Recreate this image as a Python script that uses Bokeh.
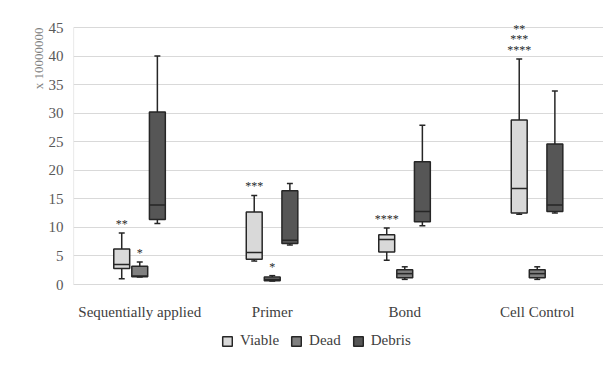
from bokeh.plotting import figure
from bokeh.models import (ColumnDataSource, FactorRange, Range1d, Legend, LegendItem,
                          Title, FixedTicker)
from bokeh.transform import dodge
from bokeh.core.properties import value
from bokeh.embed import file_html
from bokeh.resources import INLINE

# ---------------- data ----------------
categories = ["Sequentially applied", "Primer", "Bond", "Cell Control"]
series_names = ["Viable", "Dead", "Debris"]

viable_min = [1.0, 4.1, 4.25, 12.3]
viable_q1 = [2.8, 4.4, 5.7, 12.5]
viable_med = [3.5, 5.6, 7.9, 16.8]
viable_q3 = [6.2, 12.7, 8.7, 28.8]
viable_max = [9.0, 15.6, 9.9, 39.5]

dead_min = [1.3, 0.6, 0.9, 0.9]
dead_q1 = [1.35, 0.65, 1.2, 1.2]
dead_med = [1.5, 0.9, 1.9, 1.9]
dead_q3 = [3.2, 1.3, 2.6, 2.6]
dead_max = [3.95, 1.55, 3.1, 3.1]

debris_min = [10.7, 6.9, 10.3, 12.5]
debris_q1 = [11.4, 7.2, 11.0, 12.8]
debris_med = [13.9, 7.75, 12.8, 13.9]
debris_q3 = [30.2, 16.4, 21.5, 24.6]
debris_max = [40.0, 17.7, 27.9, 33.9]

# significance marks: category, series, text, stack level
sig_category = ["Sequentially applied", "Sequentially applied", "Primer", "Primer",
                "Bond", "Cell Control", "Cell Control", "Cell Control"]
sig_series = ["Viable", "Dead", "Viable", "Dead", "Viable", "Viable", "Viable", "Viable"]
sig_text = ["**", "*", "***", "*", "****", "****", "***", "**"]
sig_level = [0, 0, 0, 0, 0, 0, 1, 2]

y_ticks = [0, 5, 10, 15, 20, 25, 30, 35, 40, 45]
y_max = 45
y_unit_label = "x 10000000"

# ---------------- style / layout ----------------
SERIF = "Liberation Serif"
fills = {"Viable": "#d9d9d9", "Dead": "#808080", "Debris": "#565656"}
offsets = {"Viable": -0.136, "Dead": 0.0, "Debris": 0.133}
edge = "#262626"
box_w = 0.12
cap_w = 0.045

W, H = 603, 367
VALUE_TOP, LEFT = 27, 73
HEADROOM = 12                     # px above the 45 line kept for the stacked marks
TOP = VALUE_TOP - HEADROOM
VALUE_PX = 257                    # pixel height of the 0..45 value band
BELOW_PX = H - VALUE_TOP - VALUE_PX   # room under the value axis for labels and legend
px_to_val = y_max / VALUE_PX
y_start = -BELOW_PX * px_to_val
y_end = y_max + HEADROOM * px_to_val

stats = {
    "Viable": (viable_min, viable_q1, viable_med, viable_q3, viable_max),
    "Dead": (dead_min, dead_q1, dead_med, dead_q3, dead_max),
    "Debris": (debris_min, debris_q1, debris_med, debris_q3, debris_max),
}

p = figure(x_range=FactorRange(*categories, range_padding=0.0),
           y_range=Range1d(y_start, y_end),
           width=W, height=H,
           min_border_left=LEFT, min_border_right=0, min_border_top=TOP, min_border_bottom=0,
           output_backend="svg", toolbar_location=None, tools="")
p.outline_line_color = None
p.background_fill_color = "white"
p.border_fill_color = "white"

p.xgrid.grid_line_color = None
p.ygrid.grid_line_color = "#d9d9d9"
p.ygrid.grid_line_width = 1.2

p.yaxis.ticker = FixedTicker(ticks=y_ticks)
p.yaxis.axis_line_color = None
p.yaxis.major_tick_line_color = None
p.yaxis.minor_tick_line_color = None
p.yaxis.major_label_standoff = 4
p.yaxis.major_label_text_font = SERIF
p.yaxis.major_label_text_font_size = "15px"
p.yaxis.major_label_text_color = "#595959"

p.xaxis.fixed_location = 0
p.xaxis.axis_line_color = "#d9d9d9"
p.xaxis.axis_line_width = 1.2
p.xaxis.major_tick_line_color = None
p.xaxis.minor_tick_line_color = None
p.xaxis.major_label_standoff = 13
p.xaxis.major_label_text_font = SERIF
p.xaxis.major_label_text_font_size = "15px"
p.xaxis.major_label_text_color = "#404040"

# value-axis line, running only over the 0..45 band at the left edge of the first category
axis_src = ColumnDataSource(dict(cat=[categories[0]], y0=[0], y1=[y_max]))
p.segment(x0=dodge("cat", -0.5, range=p.x_range), x1=dodge("cat", -0.5, range=p.x_range),
          y0="y0", y1="y1", source=axis_src, line_color="#d9d9d9", line_width=1.2)

legend_items = []
for name in series_names:
    mn, q1, md, q3, mx = stats[name]
    src = ColumnDataSource(dict(cat=categories, mn=mn, q1=q1, md=md, q3=q3, mx=mx))
    off = offsets[name]
    # whiskers
    p.segment(x0=dodge("cat", off, range=p.x_range), x1=dodge("cat", off, range=p.x_range),
              y0="q3", y1="mx", source=src, line_color=edge, line_width=1.5)
    p.segment(x0=dodge("cat", off, range=p.x_range), x1=dodge("cat", off, range=p.x_range),
              y0="q1", y1="mn", source=src, line_color=edge, line_width=1.5)
    # caps
    for col in ("mx", "mn"):
        p.segment(x0=dodge("cat", off - cap_w / 2, range=p.x_range),
                  x1=dodge("cat", off + cap_w / 2, range=p.x_range),
                  y0=col, y1=col, source=src, line_color=edge, line_width=1.5)
    # box
    r = p.vbar(x=dodge("cat", off, range=p.x_range), width=box_w, bottom="q1", top="q3",
               source=src, fill_color=fills[name], line_color=edge, line_width=1.5)
    # median
    p.segment(x0=dodge("cat", off - box_w / 2, range=p.x_range),
              x1=dodge("cat", off + box_w / 2, range=p.x_range),
              y0="md", y1="md", source=src, line_color=edge, line_width=1.5)
    legend_items.append(LegendItem(label=name, renderers=[r]))

# significance marks above whiskers
sig_by_series = {}
for i, s in enumerate(sig_series):
    sig_by_series.setdefault(s, []).append(i)
for s, idx in sig_by_series.items():
    sub = ColumnDataSource(dict(
        cat=[sig_category[i] for i in idx],
        y=[stats[s][4][categories.index(sig_category[i])] for i in idx],
        text=[sig_text[i] for i in idx],
        yoff=[-9 - 10.5 * sig_level[i] for i in idx]))
    p.text(x=dodge("cat", offsets[s], range=p.x_range), y="y", text="text", y_offset="yoff",
           source=sub, text_align="center", text_baseline="alphabetic",
           text_font=value(SERIF), text_font_size="12px", text_color="#262626")

# y unit label (placed at the top of the value axis)
p.add_layout(Title(text=y_unit_label, align="right", text_font=SERIF,
                   text_font_size="13px", text_font_style="normal",
                   text_color="#7f7f7f", offset=HEADROOM, standoff=0), "left")

legend = Legend(items=legend_items, orientation="horizontal", location=(148, 18),
                glyph_width=12, glyph_height=12, label_height=12, label_standoff=7, spacing=11,
                padding=0, margin=0, border_line_color=None, background_fill_alpha=0,
                label_text_font=SERIF, label_text_font_size="15px", label_text_color="#404040")
p.add_layout(legend, "center")

open("out.html", "w").write(file_html(p, INLINE))
